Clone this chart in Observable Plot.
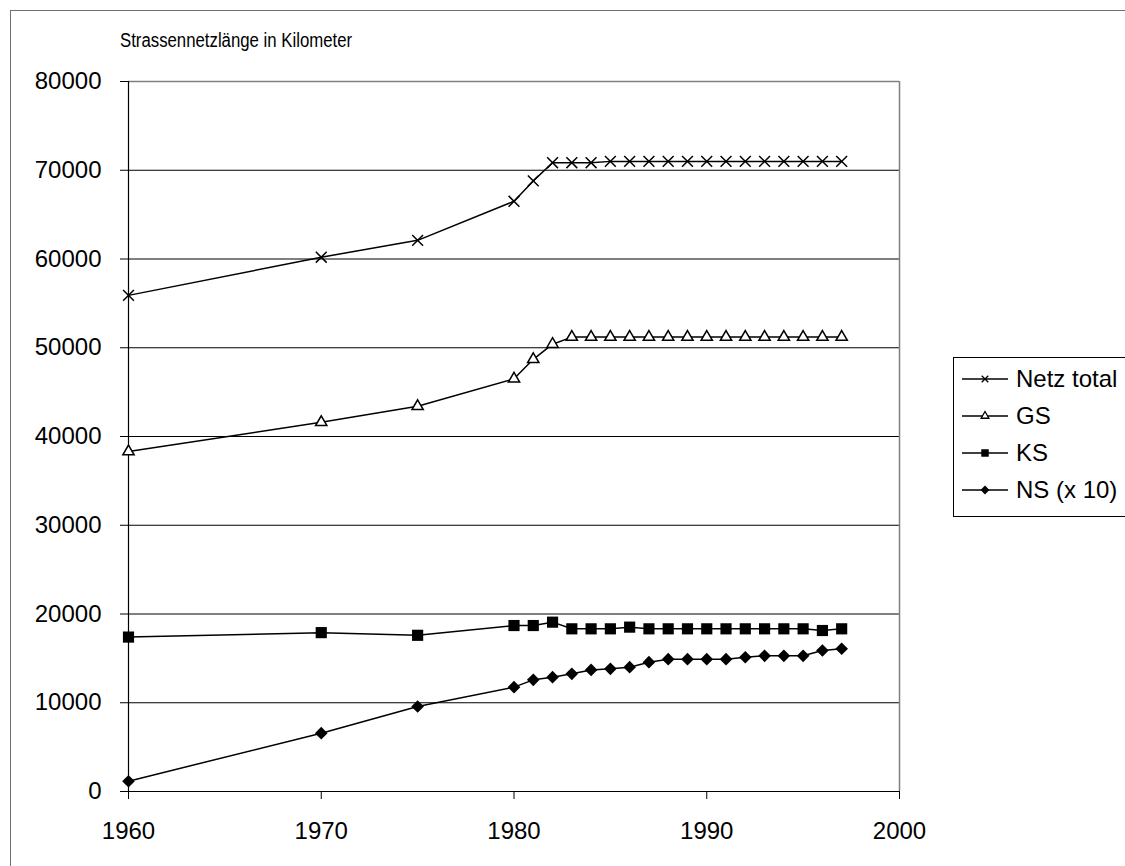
<!DOCTYPE html>
<html>
<head>
<meta charset="utf-8">
<script src="https://cdn.jsdelivr.net/npm/d3@7"></script>
<script src="https://cdn.jsdelivr.net/npm/@observablehq/plot@0.6"></script>
<style>
  html, body { margin: 0; padding: 0; background: #fff; overflow: hidden; }
  #wrap { position: relative; width: 1125px; height: 866px; font-family: "Liberation Sans", Arial, sans-serif; }
  #frame { position: absolute; left: 10px; top: 10px; width: 1130px; height: 900px; border: 1px solid #707070; box-sizing: border-box; pointer-events: none; }
  #title { position: absolute; left: 120px; top: 28px; font-size: 19.5px; line-height: 24px; color: #000; white-space: nowrap; transform: scaleX(0.86); transform-origin: 0 50%; }
  #chart { position: absolute; left: 0; top: 0; }
  #legend { position: absolute; left: 953px; top: 357px; width: 180px; height: 160px; border: 1px solid #000; box-sizing: border-box; background: #fff; }
  .row { position: absolute; left: 0; height: 30px; display: flex; align-items: center; }
  .row svg { display: block; }
  .row span { font-size: 24px; margin-left: 7px; color: #000; white-space: nowrap; }
</style>
</head>
<body>
<div id="wrap">
  <div id="chart"></div>
  <div id="frame"></div>
  <div id="title">Strassennetzlänge in Kilometer</div>
  <div id="legend"></div>
</div>
<script>
// ---- data ----
const years = [1960, 1970, 1975, 1980, 1981, 1982, 1983, 1984, 1985, 1986, 1987, 1988, 1989, 1990, 1991, 1992, 1993, 1994, 1995, 1996, 1997];
const netzTotal = [55900, 60200, 62100, 66500, 68800, 70850, 70850, 70850, 71000, 71000, 71000, 71000, 71000, 71000, 71000, 71000, 71000, 71000, 71000, 71000, 71000];
const gs = [38300, 41600, 43400, 46500, 48700, 50400, 51200, 51200, 51200, 51200, 51200, 51200, 51200, 51200, 51200, 51200, 51200, 51200, 51200, 51200, 51200];
const ks = [17400, 17900, 17600, 18700, 18700, 19080, 18330, 18330, 18330, 18520, 18330, 18330, 18330, 18330, 18330, 18330, 18330, 18330, 18330, 18140, 18330];
const ns10 = [1160, 6570, 9580, 11760, 12580, 12880, 13260, 13700, 13820, 14010, 14570, 14910, 14910, 14910, 14910, 15130, 15290, 15290, 15290, 15890, 16080];
const seriesNames = ["Netz total", "GS", "KS", "NS (x 10)"];
const yTicks = [0, 10000, 20000, 30000, 40000, 50000, 60000, 70000, 80000];
const xTicks = [1960, 1970, 1980, 1990, 2000];
const titleText = "Strassennetzlänge in Kilometer";

// ---- build table ----
const seriesValues = [netzTotal, gs, ks, ns10];
const rows = [];
seriesNames.forEach((name, i) => {
  years.forEach((yr, j) => rows.push({series: name, year: yr, value: seriesValues[i][j]}));
});
const bySeries = name => rows.filter(d => d.series === name);

const symbols = ["times", "triangle", "square", "diamond2"];
const dotStyle = [
  {r: 5, fill: "none", stroke: "#000", strokeWidth: 1.5},
  {r: 4.2, fill: "#fff", stroke: "#000", strokeWidth: 1.5},
  {r: 6.3, fill: "#000", stroke: "none"},
  {r: 5.7, fill: "#000", stroke: "none"}
];

const chart = Plot.plot({
  width: 1125,
  height: 866,
  marginLeft: 128,
  marginRight: 226,
  marginTop: 81,
  marginBottom: 75,
  style: {fontFamily: "'Liberation Sans', Arial, sans-serif", fontSize: "24px", background: "transparent", color: "#000"},
  x: {domain: [1960, 2000]},
  y: {domain: [0, 80000]},
  marks: [
    Plot.ruleY(yTicks.slice(1, -1), {stroke: "#000", strokeWidth: 1}),
    Plot.ruleY([80000], {stroke: "#808080", strokeWidth: 1.5}),
    Plot.ruleX([2000], {stroke: "#808080", strokeWidth: 1.5}),
    Plot.ruleX([1960], {stroke: "#000", strokeWidth: 1.2}),
    Plot.ruleY([0], {stroke: "#000", strokeWidth: 1.2}),
    Plot.axisY({ticks: yTicks, tickSize: 8, tickPadding: 19, tickFormat: d => String(d), label: null, fontSize: 24}),
    Plot.axisX({ticks: xTicks, tickSize: 8, tickPadding: 22, tickFormat: d => String(d), label: null, fontSize: 24}),
    ...seriesNames.map(name => Plot.line(bySeries(name), {x: "year", y: "value", stroke: "#000", strokeWidth: 1.5})),
    ...seriesNames.map((name, i) => Plot.dot(bySeries(name), {x: "year", y: "value", symbol: () => symbols[i], ...dotStyle[i]}))
  ]
});
document.getElementById("chart").appendChild(chart);
document.getElementById("title").textContent = titleText;

// ---- legend ----
const legend = document.getElementById("legend");
const legendSym = [
  {type: d3.symbolTimes, size: 30, fill: "none", stroke: "#000", sw: 1.3},
  {type: d3.symbolTriangle, size: 26, fill: "#fff", stroke: "#000", sw: 1.3},
  {type: d3.symbolSquare, size: 56, fill: "#000", stroke: "none", sw: 0},
  {type: d3.symbolDiamond2, size: 50, fill: "#000", stroke: "none", sw: 0}
];
seriesNames.forEach((name, i) => {
  const row = document.createElement("div");
  row.className = "row";
  row.style.top = (6 + i * 37) + "px";
  const svg = d3.create("svg").attr("width", 55).attr("height", 30);
  svg.append("line").attr("x1", 8).attr("x2", 54).attr("y1", 15).attr("y2", 15).attr("stroke", "#000").attr("stroke-width", 1.5);
  const s = legendSym[i];
  svg.append("path").attr("transform", "translate(31,15)")
    .attr("d", d3.symbol(s.type, s.size)())
    .attr("fill", s.fill).attr("stroke", s.stroke).attr("stroke-width", s.sw);
  row.appendChild(svg.node());
  const t = document.createElement("span");
  t.textContent = name;
  row.appendChild(t);
  legend.appendChild(row);
});
</script>
</body>
</html>
